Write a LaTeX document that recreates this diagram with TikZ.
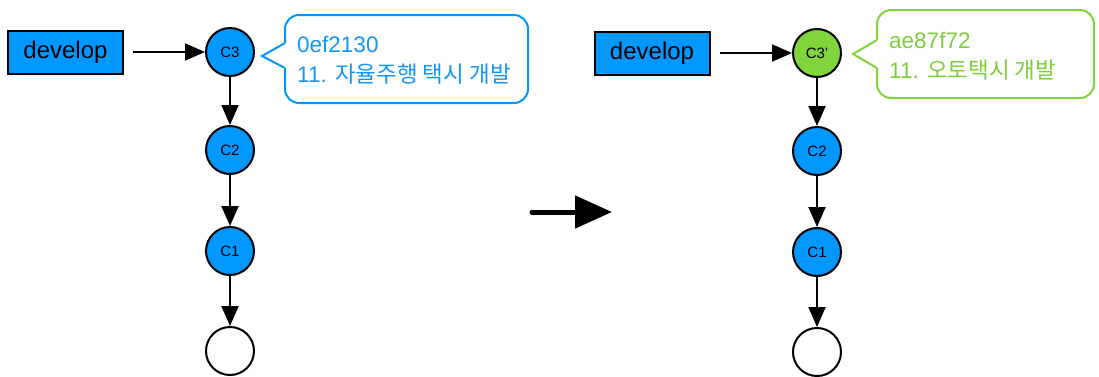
\documentclass[tikz,border=0pt]{standalone}
\usepackage{fontspec}
\setmainfont{Liberation Sans}
\newfontfamily\cjk{Noto Sans CJK KR}
\usetikzlibrary{arrows.meta}
\definecolor{gblue}{RGB}{0,152,255}
\definecolor{ggreen}{RGB}{128,212,60}
\definecolor{tblue}{RGB}{20,150,245}
\definecolor{tgreen}{RGB}{125,205,60}
\tikzset{
  branch/.style={draw=black, line width=2pt, fill=gblue, minimum width=115pt, minimum height=43pt, inner sep=0pt, font=\fontsize{24}{28}\selectfont},
  commit/.style={circle, draw=black, line width=2pt, fill=gblue, minimum size=48pt, inner sep=0pt, font=\fontsize{15}{17}\selectfont},
  newcommit/.style={commit, fill=ggreen},
  emptycommit/.style={commit, fill=white},
  arr/.style={line width=2pt, -{Triangle[length=20pt,width=17pt]}},
  bigarr/.style={line width=5pt, line cap=round, -{Triangle[length=37pt,width=32pt]}},
  calltext/.style={anchor=base west, inner sep=0pt, font=\fontsize{22.5}{26}\selectfont},
  kor/.style={font=\fontsize{23}{26}\cjk},
}
\begin{document}
\begin{tikzpicture}[x=1pt,y=-1pt]
\useasboundingbox (0,0) rectangle (1099,376);
% left side
\node[branch] (devL) at (65.5,52) {develop};
\node[commit] (L3) at (230,52) {C3};
\node[commit] (L2) at (230,150) {C2};
\node[commit] (L1) at (230,251) {C1};
\node[emptycommit] (L0) at (230,351) {};
\draw[arr, shorten <=9pt] (devL) -- (L3);
\draw[arr] (L3) -- (L2);
\draw[arr] (L2) -- (L1);
\draw[arr] (L1) -- (L0);
% left callout
\draw[gblue, line width=2pt, rounded corners=14pt] (285,43) -- (285,15) -- (528,15) -- (528,103) -- (285,103) -- (285,68);
\draw[gblue, line width=2pt, line join=miter] (285,68) -- (262,56) -- (285,43);
\node[calltext, text=tblue] (hL) at (297,52) {0ef2130};
\node[calltext, text=tblue] (mL) at (297,82) {11. {\fontsize{22.5}{26}\cjk 자율주행 택시 개발}};
% middle arrow
\coordinate (ma) at (532,212);
\coordinate (mb) at (612,212);
\draw[bigarr] (ma) -- (mb);
% right side
\node[branch] (devR) at (652,53) {develop};
\node[newcommit] (R3) at (817,53) {C3’};
\node[commit] (R2) at (817,151) {C2};
\node[commit] (R1) at (817,252) {C1};
\node[emptycommit] (R0) at (817,352) {};
\draw[arr, shorten <=9pt] (devR) -- (R3);
\draw[arr] (R3) -- (R2);
\draw[arr] (R2) -- (R1);
\draw[arr] (R1) -- (R0);
% right callout
\draw[ggreen, line width=2pt, rounded corners=14pt] (877,40) -- (877,10) -- (1094,10) -- (1094,98) -- (877,98) -- (877,68);
\draw[ggreen, line width=2pt, line join=miter] (877,68) -- (853,54) -- (877,40);
\node[calltext, text=tgreen] (hR) at (889,48) {ae87f72};
\node[calltext, text=tgreen] (mR) at (889,78) {11. {\fontsize{22.5}{26}\cjk 오토택시 개발}};
\end{tikzpicture}
\end{document}
